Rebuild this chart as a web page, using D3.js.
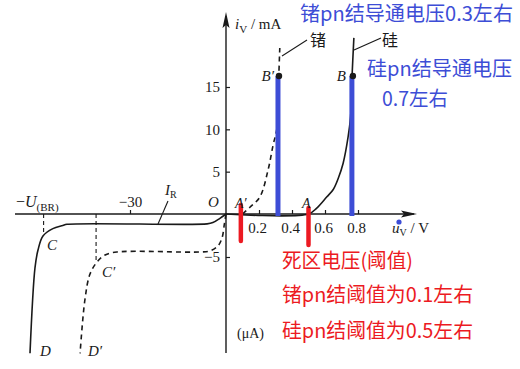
<!DOCTYPE html>
<html>
<head>
<meta charset="utf-8">
<script src="https://cdn.jsdelivr.net/npm/d3@7"></script>
<style>
  body { margin: 0; background: #fff; }
  svg { display: block; }
</style>
</head>
<body>
<div id="viz"></div>
<script>
// ── DATA ────────────────────────────────────────────────────────────────────
// forward branch (V, mA)
const siFwdV = [0, 0.5, 0.55, 0.61, 0.65, 0.68, 0.71, 0.74, 0.755, 0.764, 0.775];
const siFwdI = [0, 0, 0.7, 2.0, 2.9, 4.2, 6.0, 9.1, 11.5, 16.3, 20.8];
const geFwdV = [0, 0.1, 0.145, 0.205, 0.255, 0.285, 0.31, 0.32, 0.326];
const geFwdI = [0, 0, 0.8, 2.0, 5.2, 8.1, 10.3, 16.3, 19.6];
// reverse branch (V, µA)
const siRevV = [0, -1.9, -4.1, -5.9, -49.7, -51, -54.1, -57.2, -58.75, -59.7, -61.25];
const siRevI = [0, -0.5, -1.0, -1.15, -1.2, -1.35, -1.7, -2.56, -4.19, -6.28, -16.2];
const geRevV = [0, -0.5, -1.25, -2.5, -5, -8.1, -34.1, -37.8, -40.3, -42.5, -44.1, -45.6];
const geRevI = [0, -1.16, -2.8, -3.7, -4.3, -4.42, -4.42, -4.77, -5.58, -6.98, -10.0, -16.2];
// breakdown knees (C, C')
const kneeV = [-57, -40.6];
const kneeI = [-2.1, -5.58];

// ticks
const fwdTicksV = [0.2, 0.4, 0.6, 0.8];
const fwdTicksI = [5, 10, 15];
const revTicksV = [-30];
const revTicksI = [-5];

// marked voltages: threshold (red) and turn-on (blue)
const threshV = [0.09, 0.5];
const onV = [0.315, 0.763];
const onI = [16.3, 16.3];

const blueNotes = ["锗pn结导通电压0.3左右", "硅pn结导通电压", "0.7左右"];
const redNotes = ["死区电压(阈值)", "锗pn结阈值为0.1左右", "硅pn结阈值为0.5左右"];

// ── SETTINGS ────────────────────────────────────────────────────────────────
const width = 520, height = 369;
const blue = "#3d4dd6", red = "#ec1a22", ink = "#1a1a1a";
const serif = "'Liberation Serif','DejaVu Serif',serif";
const cjk = "'Noto Sans CJK SC','Noto Sans',sans-serif";

const svg = d3.select("#viz").append("svg")
    .attr("viewBox", [0, 0, width, height])
    .attr("width", width)
    .attr("height", height);

const xPos = d3.scaleLinear().domain([0, 0.8]).range([226, 358]);
const yPos = d3.scaleLinear().domain([0, 15]).range([214, 87]);
const xNeg = d3.scaleLinear().domain([-30, 0]).range([130, 226]);
const yNeg = d3.scaleLinear().domain([-5, 0]).range([257, 214]);

const x0 = xPos(0), y0 = yPos(0);

// ── AXES ─────────────────────────────────────────────────────────────────────
function styleAxis(g) {
  g.select(".domain").remove();
  g.selectAll("line").attr("stroke", ink).attr("stroke-width", 1.2);
  g.selectAll("text").attr("font-family", serif).attr("font-size", 15).attr("fill", ink);
}

svg.append("g").attr("transform", `translate(0,${y0})`)
  .call(d3.axisBottom(xPos).tickValues(fwdTicksV).tickSize(-4).tickPadding(8).tickFormat(d3.format(".1f")))
  .call(styleAxis)
  .selectAll("text").attr("dx", -2);

svg.append("g").attr("transform", `translate(0,${y0})`)
  .call(d3.axisTop(xNeg).tickValues(revTicksV).tickSize(4).tickPadding(3).tickFormat(d3.format("d")))
  .call(styleAxis);

svg.append("g").attr("transform", `translate(${x0},0)`)
  .call(d3.axisLeft(yPos).tickValues(fwdTicksI).tickSize(-4).tickPadding(6).tickFormat(d3.format("d")))
  .call(styleAxis);

svg.append("g").attr("transform", `translate(${x0},0)`)
  .call(d3.axisLeft(yNeg).tickValues(revTicksI).tickSize(-4).tickPadding(6).tickFormat(d3.format("d")))
  .call(styleAxis);

// axis lines with arrows
svg.append("line").attr("x1", 15).attr("x2", 414).attr("y1", y0).attr("y2", y0)
  .attr("stroke", ink).attr("stroke-width", 1.4);
svg.append("line").attr("x1", x0).attr("x2", x0).attr("y1", 353).attr("y2", 16)
  .attr("stroke", ink).attr("stroke-width", 1.4);
svg.append("path").attr("d", `M417,${y0} L401,${y0 - 3.5} L404,${y0} L401,${y0 + 3.5} Z`).attr("fill", ink);
svg.append("path").attr("d", `M${x0},12 L${x0 - 3.5},28 L${x0},25 L${x0 + 3.5},28 Z`).attr("fill", ink);

// ── CURVES ───────────────────────────────────────────────────────────────────
const line = d3.line().curve(d3.curveCatmullRom.alpha(0.5));
const pts = (vs, is, xs, ys) => vs.map((v, i) => [xs(v), ys(is[i])]);

svg.append("path").attr("d", line(pts(siFwdV, siFwdI, xPos, yPos)))
  .attr("fill", "none").attr("stroke", ink).attr("stroke-width", 1.6);
svg.append("path").attr("d", line(pts(siRevV, siRevI, xNeg, yNeg)))
  .attr("fill", "none").attr("stroke", ink).attr("stroke-width", 1.6);
svg.append("path").attr("d", line(pts(geFwdV.slice(1), geFwdI.slice(1), xPos, yPos)))
  .attr("fill", "none").attr("stroke", ink).attr("stroke-width", 1.6).attr("stroke-dasharray", "5,4");
svg.append("path").attr("d", line(pts(geRevV, geRevI, xNeg, yNeg)))
  .attr("fill", "none").attr("stroke", ink).attr("stroke-width", 1.6).attr("stroke-dasharray", "5,4");

// dashed drop lines to the knees
svg.selectAll(".knee").data(kneeV).join("line").attr("class", "knee")
  .attr("x1", d => xNeg(d)).attr("x2", d => xNeg(d))
  .attr("y1", y0).attr("y2", (d, i) => yNeg(kneeI[i]))
  .attr("stroke", ink).attr("stroke-width", 1.1).attr("stroke-dasharray", "4,3");

// leader lines
const leaders = [[282, 56, 307, 40], [354, 50, 381, 38], [158, 224, 168, 201]];
svg.selectAll(".leader").data(leaders).join("line").attr("class", "leader")
  .attr("x1", d => d[0]).attr("y1", d => d[1]).attr("x2", d => d[2]).attr("y2", d => d[3])
  .attr("stroke", ink).attr("stroke-width", 1.1);

// ── MARKERS ──────────────────────────────────────────────────────────────────
svg.selectAll(".onbar").data(onV).join("line").attr("class", "onbar")
  .attr("x1", d => xPos(d)).attr("x2", d => xPos(d))
  .attr("y1", (d, i) => yPos(onI[i])).attr("y2", y0 + 2)
  .attr("stroke", blue).attr("stroke-width", 5);
svg.selectAll(".ondot").data(onV).join("circle").attr("class", "ondot")
  .attr("cx", d => xPos(d) + 1).attr("cy", (d, i) => yPos(onI[i]))
  .attr("r", 3.2).attr("fill", ink);

svg.selectAll(".thbar").data(threshV).join("line").attr("class", "thbar")
  .attr("x1", d => xPos(d)).attr("x2", d => xPos(d))
  .attr("y1", (d, i) => [205, 208][i]).attr("y2", (d, i) => [241, 245][i])
  .attr("stroke", red).attr("stroke-width", 4.5).attr("stroke-linecap", "round");

svg.append("circle").attr("cx", 399).attr("cy", 222).attr("r", 2.6).attr("fill", blue);

// ── LABELS ───────────────────────────────────────────────────────────────────
function label(x, y, parts, size = 15, anchor = "start") {
  const t = svg.append("text").attr("x", x).attr("y", y)
    .attr("font-family", serif).attr("font-size", size).attr("fill", ink)
    .attr("text-anchor", anchor);
  parts.forEach(p => {
    const s = t.append("tspan").text(p.t);
    if (p.i) s.attr("font-style", "italic");
    if (p.sub) s.attr("font-size", p.sub).attr("dy", p.dy || 4);
    if (p.up) s.attr("dy", p.up);
  });
  return t;
}

label(235, 29, [{ t: "i", i: true }, { t: "V", sub: 11, dy: 4 }, { t: " / mA", up: -4 }], 15);
label(392, 233, [{ t: "u", i: true }, { t: "V", sub: 10, dy: 3 }, { t: " / V", up: -3 }], 15);
label(16, 207, [{ t: "−" }, { t: "U", i: true }, { t: "(BR)", sub: 11, dy: 4 }], 16);
label(165, 195, [{ t: "I", i: true }, { t: "R", sub: 10, dy: 3 }], 15);
label(208, 207, [{ t: "O", i: true }], 15);
label(235, 208, [{ t: "A′", i: true }], 14);
label(302, 208, [{ t: "A", i: true }], 14);
label(346, 81, [{ t: "B", i: true }], 15, "end");
label(274, 81, [{ t: "B′", i: true }], 15, "end");
label(47, 250, [{ t: "C", i: true }], 15);
label(102, 277, [{ t: "C′", i: true }], 15);
label(40, 356, [{ t: "D", i: true }], 15);
label(88, 356, [{ t: "D′", i: true }], 15);
label(237, 338, [{ t: "(μA)" }], 14);

svg.append("text").attr("x", 310).attr("y", 46).attr("font-family", cjk)
  .attr("font-size", 16).attr("fill", ink).text("锗");
svg.append("text").attr("x", 382).attr("y", 46).attr("font-family", cjk)
  .attr("font-size", 16).attr("fill", ink).text("硅");

const bluePos = [[300, 21, 213], [367, 76, 145], [382, 106, 66]];
svg.selectAll(".bnote").data(blueNotes).join("text").attr("class", "bnote")
  .attr("x", (d, i) => bluePos[i][0]).attr("y", (d, i) => bluePos[i][1])
  .attr("textLength", (d, i) => bluePos[i][2]).attr("lengthAdjust", "spacingAndGlyphs")
  .attr("font-family", cjk).attr("font-size", 20).attr("fill", blue)
  .text(d => d);

const redPos = [[268, 131], [302, 191], [338, 191]];
svg.selectAll(".rnote").data(redNotes).join("text").attr("class", "rnote")
  .attr("x", 282).attr("y", (d, i) => redPos[i][0])
  .attr("textLength", (d, i) => redPos[i][1]).attr("lengthAdjust", "spacingAndGlyphs")
  .attr("font-family", cjk).attr("font-size", 20).attr("fill", red)
  .text(d => d);
</script>
</body>
</html>
